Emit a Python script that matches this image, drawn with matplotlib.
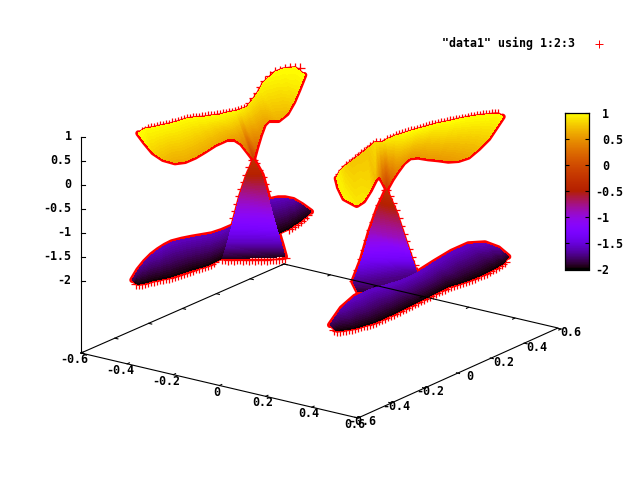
import numpy as np
import matplotlib
matplotlib.use("Agg")
import matplotlib.pyplot as plt
from matplotlib.colors import ListedColormap
from matplotlib.tri import Triangulation

# ---------- axis values ----------
x_ticks = [-0.6, -0.4, -0.2, 0, 0.2, 0.4, 0.6]
y_ticks = [-0.6, -0.4, -0.2, 0, 0.2, 0.4, 0.6]
z_ticks = [1, 0.5, 0, -0.5, -1, -1.5, -2]
cb_ticks = [1, 0.5, 0, -0.5, -1, -1.5, -2]
legend_label = '"data1" using 1:2:3'

# ---------- surfaces (screen position, z value) ----------
wing1_top_x = [138.3, 145, 153.3, 161.7, 170, 178.3, 186.7, 195, 203.3, 211.7, 220, 228.3, 235, 240, 246.7, 251.7, 256.7, 260, 263.3, 275, 283.3, 295, 304.3]
wing1_top_y = [133.3, 129, 127.7, 125.7, 124, 121.7, 119, 117.7, 117.3, 116, 115, 112.7, 111.7, 110, 107.7, 101.7, 95, 89.3, 83.3, 72.3, 69, 67.7, 75]
wing1_top_z = [1, 0.98, 0.98, 0.98, 0.98, 0.98, 0.98, 0.98, 0.98, 0.98, 0.98, 0.97, 0.95, 0.92, 0.88, 0.88, 0.9, 0.93, 0.95, 1, 1, 1, 1]
wing1_low_x = [138.3, 145, 153.3, 163.3, 175, 185, 195, 205, 215, 226.7, 235, 241.7, 248.3, 253.3, 256, 260, 264, 268.3, 278.3, 286.7, 293.3, 298.3, 304.3]
wing1_low_y = [133.3, 142.3, 152.3, 159, 162.3, 161, 156.7, 150.7, 144.3, 139, 139, 143.3, 151.7, 158.3, 148.3, 135, 124.3, 120, 120, 113.3, 101.7, 90, 75]
wing1_low_z = [1, 0.95, 0.8, 0.7, 0.62, 0.62, 0.62, 0.62, 0.62, 0.6, 0.55, 0.45, 0.25, -0.15, 0.25, 0.45, 0.55, 0.6, 0.65, 0.7, 0.8, 0.9, 1]

wing2_top_x = [336.7, 340, 345, 351.7, 358.3, 366.7, 375, 378.3, 382.3, 386.7, 395.7, 405, 415, 425, 436.7, 448.3, 458.3, 468.3, 478.3, 488.3, 495, 498.3, 502.7]
wing2_top_y = [178.3, 171.7, 166.7, 161.7, 156.7, 150, 142.7, 142.7, 142.7, 140, 136, 133.3, 130, 127.3, 124, 121.7, 119.3, 117.3, 115.7, 114.7, 114, 114, 116.7]
wing2_top_z = [0.95, 0.9, 0.8, 0.75, 0.75, 0.75, 0.85, 0.85, 0.85, 0.9, 0.95, 0.98, 0.98, 0.98, 0.98, 1, 1, 1, 1, 1, 1, 1, 1]
wing2_low_x = [336.7, 339, 344.3, 356.7, 363.3, 370, 375, 379.3, 383.3, 386.7, 391.7, 396.7, 403.3, 410, 418.3, 428.3, 438.3, 448.3, 458.3, 468.3, 478.3, 488.3, 502.7]
wing2_low_y = [178.3, 187.3, 198.3, 205, 200.7, 190, 180, 175, 181.7, 188.3, 179.3, 171.7, 162.7, 157.3, 156.7, 158.3, 159.3, 160.7, 160, 156.7, 148.3, 138.3, 116.7]
wing2_low_z = [0.9, 0.95, 0.95, 0.9, 0.9, 0.85, 0.7, 0.45, 0.1, -0.15, 0.2, 0.4, 0.5, 0.52, 0.52, 0.52, 0.52, 0.52, 0.55, 0.6, 0.7, 0.8, 1]

cone1_left_x = [253.3, 246.7, 240, 231.7, 226.7, 222.3]
cone1_left_y = [160, 175, 195, 226.7, 245, 259]
cone1_right_x = [253.3, 261.7, 268.3, 276.7, 281.7, 285]
cone1_right_y = [160, 175, 198.3, 228.3, 245, 256.7]
cone1_z = [-0.3, -0.5, -0.82, -1.3, -1.65, -1.95]

cone2_left_x = [386.7, 378.3, 370, 361.7, 353.3, 358.3]
cone2_left_y = [190, 208.3, 231.7, 260, 281.7, 291.7]
cone2_right_x = [386.7, 396.7, 405, 411.7, 416.7, 425]
cone2_right_y = [190, 213.3, 238.3, 258.3, 272.3, 290]
cone2_z = [-0.3, -0.58, -0.9, -1.38, -1.72, -1.9]

back_top_x = [132.3, 138.3, 145, 151.7, 158.3, 165, 171.7, 181.7, 191.7, 201.7, 211.7, 221.7, 231.7, 251.7, 270, 278.3, 285, 293.3, 301.7, 311]
back_top_y = [280, 270, 261.7, 255, 250, 245.7, 242.3, 239.7, 237.7, 236, 234.3, 231, 226.7, 215, 200, 198.3, 198.3, 200, 205, 211.7]
back_top_z = [-1.85, -1.75, -1.68, -1.64, -1.6, -1.6, -1.6, -1.6, -1.6, -1.6, -1.6, -1.6, -1.6, -1.6, -1.6, -1.6, -1.62, -1.66, -1.8, -1.95]
back_low_x = [132.3, 135, 138.3, 145, 151.7, 161.7, 171.7, 181.7, 191.7, 200, 208.3, 215, 221.7, 251.7, 279, 283.7, 288.3, 295, 301.7, 311]
back_low_y = [280, 282.7, 284.3, 283, 281, 279, 276.7, 273.3, 270, 267.7, 265, 261.7, 258.3, 245, 233.3, 231, 229, 224.3, 220, 211.7]
back_low_z = [-1.9, -2, -2, -2, -2, -2, -2, -2, -2, -2, -2, -2, -2, -2, -2, -2, -2, -2, -2, -1.95]

front_top_x = [330, 341.7, 355, 368.3, 385, 401.7, 418.3, 435, 451.7, 468.3, 485, 498.3, 508.3]
front_top_y = [325, 308.3, 296.7, 290, 285, 280, 272.3, 261.7, 251.7, 244.3, 243.3, 248.3, 256.7]
front_top_z = [-1.85, -1.65, -1.58, -1.58, -1.58, -1.58, -1.58, -1.58, -1.58, -1.58, -1.6, -1.7, -1.95]
front_low_x = [330, 336.7, 355, 375, 395, 415, 431.7, 448.3, 465, 481.7, 495, 503.3, 508.3]
front_low_y = [325, 331, 328.3, 322.3, 313.3, 303.3, 295, 286.7, 281.7, 275, 268.3, 263.3, 256.7]
front_low_z = [-1.9, -2, -2, -2, -2, -2, -2, -2, -2, -2, -2, -2, -1.95]

# ---------- scattered "+" points along the spiky edges ----------
wing1_pts_x = [142, 145, 148, 151, 154, 157, 160, 163, 166, 169, 172, 175, 178, 181, 184, 187, 190, 193, 196, 199, 202, 205, 208, 211, 214, 217, 220, 223, 226, 229, 232, 235, 238, 241, 244, 247, 250, 254, 258, 261, 265, 270, 275, 280, 285, 290, 295, 300]
wing1_pts_y = [132, 131, 129, 128, 128, 127, 126, 126, 125, 125, 123, 123, 122, 121, 120, 119, 119, 118, 118, 118, 117, 117, 116, 116, 116, 115, 115, 114, 114, 113, 113, 112, 111, 110, 109, 108, 103, 98, 93, 87, 81, 76, 72, 71, 69, 68, 68, 68]
wing2_pts_x = [340, 343, 346, 349, 352, 355, 358, 361, 364, 367, 370, 373, 376, 380, 384, 387, 390, 393, 396, 399, 402, 405, 408, 411, 414, 417, 420, 423, 426, 429, 432, 435, 438, 441, 444, 447, 450, 453, 456, 459, 462, 465, 468, 471, 474, 477, 480, 483, 486, 489, 492, 495, 498]
wing2_pts_y = [174, 170, 166, 164, 162, 159, 157, 154, 152, 150, 147, 145, 143, 143, 143, 140, 139, 138, 136, 135, 134, 133, 132, 131, 131, 130, 129, 128, 127, 126, 125, 125, 124, 123, 123, 122, 121, 121, 120, 120, 119, 119, 118, 117, 117, 116, 116, 115, 115, 115, 114, 114, 114]
cone1_pts_x = [253, 250, 247, 245, 242, 240, 238, 236, 234, 232, 255, 258, 262, 264, 266, 268,
               222, 225, 228, 231, 234, 237, 240, 243, 246, 249, 252, 255, 258, 261, 264, 267, 270, 273, 276, 279, 282, 285]
cone1_pts_y = [160, 167, 175, 182, 189, 196, 204, 211, 218, 226, 163, 170, 177, 184, 191, 198,
               259, 259, 260, 259, 260, 259, 259, 260, 259, 260, 259, 260, 259, 260, 259, 260, 259, 259, 259, 259, 258, 258]
cone2_pts_x = [386, 383, 380, 377, 374, 371, 368, 365, 362, 358, 354, 389, 392, 395, 398, 400, 403, 405, 408, 411, 414, 417]
cone2_pts_y = [190, 198, 205, 214, 222, 230, 240, 250, 259, 270, 281, 196, 203, 210, 218, 226, 234, 241, 249, 257, 265, 272]
back_pts_x = [136, 139, 142, 145, 148, 151, 154, 157, 160, 163, 166, 169, 172, 175, 178, 181, 184, 187, 190, 193, 196, 199, 202, 205, 208, 211, 214, 289, 292, 295, 298, 301, 304, 307]
back_pts_y = [284, 284, 284, 283, 282, 281, 281, 280, 279, 279, 278, 278, 277, 276, 275, 274, 273, 272, 271, 270, 268, 268, 267, 266, 265, 264, 262, 229, 227, 225, 223, 221, 218, 215]
front_pts_x = [334, 337, 340, 343, 346, 349, 352, 355, 358, 361, 364, 367, 370, 373, 376, 379, 382, 385, 388, 391, 394, 397, 400, 403, 406, 409, 412, 415, 418, 421, 424, 427, 430, 433, 436, 439, 442, 445, 448, 451, 454, 457, 460, 463, 466, 469, 472, 475, 478, 481, 484, 487, 490, 493, 496, 499, 502, 505]
front_pts_y = [330, 331, 331, 330, 330, 329, 329, 328, 327, 326, 325, 325, 324, 323, 322, 320, 319, 318, 316, 315, 314, 312, 311, 309, 308, 306, 305, 303, 302, 300, 299, 297, 296, 294, 293, 291, 290, 289, 287, 286, 285, 284, 283, 282, 281, 280, 279, 278, 276, 275, 274, 273, 271, 269, 268, 266, 264, 262]

# ---------- box corners on screen ----------
corner_a = np.array([81.0, 353.0])    # x=-0.6, y=-0.6
corner_b = np.array([358.0, 418.0])   # x= 0.6, y=-0.6
corner_c = np.array([558.0, 328.0])   # x= 0.6, y= 0.6
corner_d = np.array([284.0, 264.0])   # x=-0.6, y= 0.6
z_top_px, z_bottom_px = 137.0, 281.0

# gnuplot default palette rgbformulae 7,5,15
_t = np.linspace(0, 1, 512)
gp_cmap = ListedColormap(np.c_[np.sqrt(_t), _t ** 3, np.clip(np.sin(2 * np.pi * _t), 0, 1)])
levels = np.linspace(-2, 1, 121)

FONT = dict(family="DejaVu Sans Mono", fontweight="bold", fontsize=8.4, color="black")
RED = "#ff0000"

fig = plt.figure(figsize=(6.4, 4.8), dpi=100)
ax = fig.add_axes([0, 0, 1, 1])
ax.set_xlim(0, 640)
ax.set_ylim(480, 0)
ax.axis("off")


def floor_xy(x, y):
    u = (x + 0.6) / 1.2
    v = (y + 0.6) / 1.2
    return corner_a + u * (corner_b - corner_a) + v * (corner_d - corner_a)


def mesh(rows_x, rows_y, rows_z, zorder):
    X = np.array(rows_x, float)
    Y = np.array(rows_y, float)
    Z = np.array(rows_z, float)
    nr, nc = X.shape
    idx = np.arange(nr * nc).reshape(nr, nc)
    tris = []
    for i in range(nr - 1):
        for j in range(nc - 1):
            tris.append([idx[i, j], idx[i + 1, j], idx[i + 1, j + 1]])
            tris.append([idx[i, j], idx[i + 1, j + 1], idx[i, j + 1]])
    xs, ys = X.ravel(), Y.ravel()
    kept = []
    for a, b, c in tris:
        area = abs((xs[b] - xs[a]) * (ys[c] - ys[a]) - (xs[c] - xs[a]) * (ys[b] - ys[a]))
        if area > 1e-6:
            kept.append([a, b, c])
    tri = Triangulation(xs, ys, np.array(kept))
    ax.tricontourf(tri, np.clip(Z.ravel(), -1.999, 0.999), levels=levels, cmap=gp_cmap,
                   vmin=-2, vmax=1, zorder=zorder, antialiased=False)


def edge(xs, ys, lw):
    ax.plot(xs, ys, color=RED, lw=lw, zorder=1, solid_capstyle="round", solid_joinstyle="round")


# --- red edges, under the surfaces ---
THIN, THICK = 2.4, 4.4
edge(wing1_top_x, wing1_top_y, THIN)
edge(wing1_low_x, wing1_low_y, THICK)
edge(wing2_top_x, wing2_top_y, THIN)
edge(wing2_low_x, wing2_low_y, THICK)
edge(cone1_left_x, cone1_left_y, THIN)
edge(cone1_right_x, cone1_right_y, THICK)
edge(cone2_left_x, cone2_left_y, THICK)
edge(cone2_right_x, cone2_right_y, THIN)
edge(back_top_x, back_top_y, THICK)
edge(back_low_x, back_low_y, THIN)
edge(front_top_x, front_top_y, THICK)
edge(front_low_x, front_low_y, THIN)

for px, py in [(wing1_pts_x, wing1_pts_y), (wing2_pts_x, wing2_pts_y), (cone1_pts_x, cone1_pts_y),
               (cone2_pts_x, cone2_pts_y), (back_pts_x, back_pts_y), (front_pts_x, front_pts_y)]:
    ax.plot(px, py, ls="none", marker="+", ms=6.6, mew=0.9, color=RED, zorder=1.5)

# --- surfaces, back to front ---
mesh([back_top_x, back_low_x], [back_top_y, back_low_y], [back_top_z, back_low_z], 2)
mesh(np.c_[cone1_left_x, cone1_right_x], np.c_[cone1_left_y, cone1_right_y], np.c_[cone1_z, cone1_z], 3)
mesh(np.c_[cone2_left_x, cone2_right_x], np.c_[cone2_left_y, cone2_right_y], np.c_[cone2_z, cone2_z], 3)
mesh([front_top_x, front_low_x], [front_top_y, front_low_y], [front_top_z, front_low_z], 4)
mesh([wing1_top_x, wing1_low_x], [wing1_top_y, wing1_low_y], [wing1_top_z, wing1_low_z], 5)
mesh([wing2_top_x, wing2_low_x], [wing2_top_y, wing2_low_y], [wing2_top_z, wing2_low_z], 5)

# --- box and ticks ---
LW = 0.8
box = np.array([corner_a, corner_b, corner_c, corner_d, corner_a])
ax.plot(box[:, 0], box[:, 1], color="black", lw=LW, zorder=6)
ax.plot([corner_a[0], corner_a[0]], [z_top_px, corner_a[1]], color="black", lw=LW, zorder=6)

TICK_FRAC = 0.011
for v in x_ticks:
    for y0, sgn in ((-0.6, 1), (0.6, -1)):
        p = floor_xy(v, y0)
        q = floor_xy(v, y0 + sgn * 1.2 * TICK_FRAC)
        ax.plot([p[0], q[0]], [p[1], q[1]], color="black", lw=LW, zorder=6)
    p = floor_xy(v, -0.6)
    dx = -7 if v < 0 else -3
    ax.text(p[0] + dx, p[1] + 6.5, f"{v:g}", ha="center", va="center", zorder=7, **FONT)
for v in y_ticks:
    for x0, sgn in ((-0.6, 1), (0.6, -1)):
        p = floor_xy(x0, v)
        q = floor_xy(x0 + sgn * 1.2 * TICK_FRAC, v)
        ax.plot([p[0], q[0]], [p[1], q[1]], color="black", lw=LW, zorder=6)
    p = floor_xy(0.6, v)
    dx = 4.5 if v < 0 else 10
    ax.text(p[0] + dx, p[1] + 3.5, f"{v:g}", ha="center", va="center", zorder=7, **FONT)
for v in z_ticks:
    py = z_top_px + (1 - v) / 3 * (z_bottom_px - z_top_px)
    ax.plot([corner_a[0], corner_a[0] + 4], [py, py], color="black", lw=LW, zorder=6)
    ax.text(71.5, py, f"{v:g}", ha="right", va="center", zorder=7, **FONT)

# --- legend ---
ax.text(575, 43.5, legend_label, ha="right", va="center", zorder=7, **FONT)
ax.plot([599], [43.5], ls="none", marker="+", ms=5.8, mew=0.7, color=RED, zorder=7)

# --- colour bar ---
cax = fig.add_axes([564.5 / 640, 1 - 269.5 / 480, 24 / 640, 156 / 480])
cax.set_facecolor("black")
grad = np.linspace(-2, 1, 256).reshape(-1, 1)
cax.imshow(grad, origin="lower", aspect="auto", cmap=gp_cmap, vmin=-2, vmax=1,
           extent=[0, 1, -2, 1], interpolation="nearest")
cax.set_xticks([])
cax.set_yticks(cb_ticks)
cax.set_yticklabels([])
cax.tick_params(axis="y", direction="in", left=True, right=True, length=3, width=LW, color="black")
for s in cax.spines.values():
    s.set_linewidth(0.9)
for v in cb_ticks:
    py = 114 + (1 - v) / 3 * 156
    ax.text(602 - (7 if v < 0 else 0), py, f"{v:g}", ha="left", va="center", zorder=7, **FONT)

fig.savefig("out.png", dpi=100)
